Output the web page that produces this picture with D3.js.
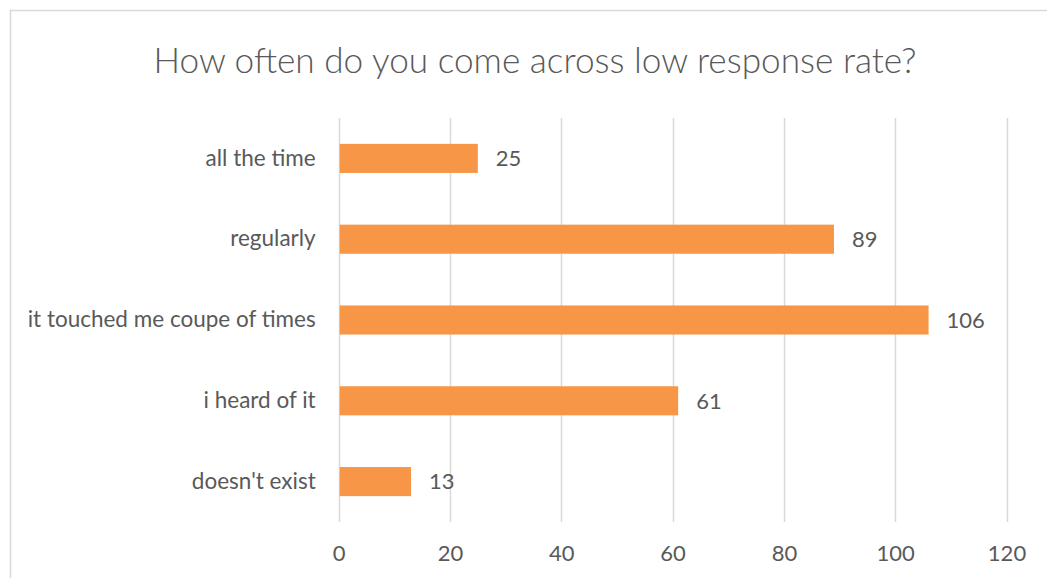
<!DOCTYPE html>
<html>
<head>
<meta charset="utf-8">
<script src="https://cdn.jsdelivr.net/npm/d3@7"></script>
<style>
  body { margin: 0; background: #fff; }
  svg text { font-family: Lato, "Open Sans", sans-serif; fill: #595959; }
</style>
</head>
<body>
<svg id="chart" width="1047" height="578"></svg>
<script>
var categories = ["all the time", "regularly", "it touched me coupe of times", "i heard of it", "doesn't exist"];
var counts = [25, 89, 106, 61, 13];
var xTicks = [0, 20, 40, 60, 80, 100, 120];
var title = "How often do you come across low response rate?";

var svg = d3.select("#chart");

// chart frame (runs off the right and bottom edge)
svg.append("rect")
    .attr("x", 10.5).attr("y", 10.5)
    .attr("width", 1060).attr("height", 600)
    .attr("fill", "#fff")
    .attr("stroke", "#d9d9d9")
    .attr("stroke-width", 1.5);

svg.append("text")
    .attr("x", 535).attr("y", 73)
    .attr("text-anchor", "middle")
    .attr("font-size", "35.2px")
    .attr("font-weight", 300)
    .text(title);

var x = d3.scaleLinear().domain([0, 120]).range([338.7, 1006.5]);
var y = d3.scaleBand().domain(categories).range([118, 522]).paddingInner(0.64).paddingOuter(0.32);

// vertical gridlines
svg.append("g")
    .selectAll("line")
    .data(xTicks)
    .enter()
    .append("line")
    .attr("x1", function (d) { return Math.round(x(d)) + 0.5; })
    .attr("x2", function (d) { return Math.round(x(d)) + 0.5; })
    .attr("y1", 118).attr("y2", 522)
    .attr("stroke", "#d9d9d9")
    .attr("stroke-width", 1.5);

var xAxis = d3.axisBottom(x).tickValues(xTicks).tickSize(0).tickPadding(0);
var gx = svg.append("g").attr("transform", "translate(0,545)").call(xAxis);
gx.select(".domain").remove();
gx.selectAll("text")
    .attr("font-size", "22px")
    .attr("dy", "0.71em")
    .style("font-family", "Lato, 'Open Sans', sans-serif")
    .attr("fill", "#595959");

var yAxis = d3.axisLeft(y).tickSize(0).tickPadding(23);
var gy = svg.append("g").attr("transform", "translate(338.7,0)").call(yAxis);
gy.select(".domain").remove();
gy.selectAll("text")
    .attr("font-size", "22.5px")
    .style("font-family", "Lato, 'Open Sans', sans-serif")
    .attr("fill", "#595959");

var rows = categories.map(function (c, i) { return { cat: c, val: counts[i] }; });

svg.append("g")
    .selectAll("rect")
    .data(rows)
    .enter()
    .append("rect")
    .attr("x", x(0) + 1)
    .attr("y", function (d) { return y(d.cat); })
    .attr("width", function (d) { return x(d.val) - x(0) - 1; })
    .attr("height", y.bandwidth())
    .attr("fill", "#f79646");

svg.append("g")
    .selectAll("text")
    .data(rows)
    .enter()
    .append("text")
    .attr("x", function (d) { return x(d.val) + 18; })
    .attr("y", function (d) { return y(d.cat) + y.bandwidth() / 2; })
    .attr("dy", "0.35em")
    .attr("font-size", "22px")
    .attr("fill", "#404040")
    .text(function (d) { return d.val; });
</script>
</body>
</html>
